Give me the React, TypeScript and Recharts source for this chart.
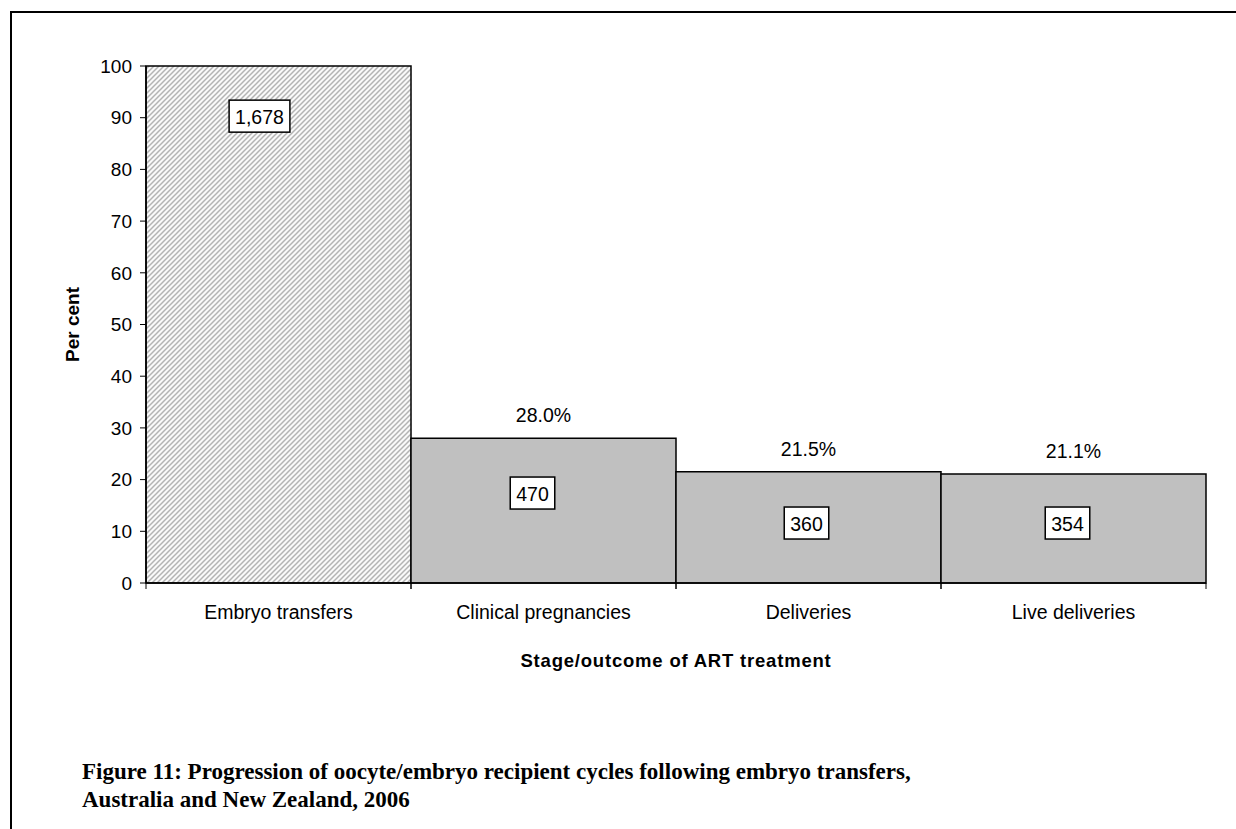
import { BarChart, Bar, XAxis, YAxis, Cell, LabelList } from 'recharts';

const stages = ['Embryo transfers', 'Clinical pregnancies', 'Deliveries', 'Live deliveries'];
const percents = [100, 28.0, 21.5, 21.1];
const counts = [1678, 470, 360, 354];
const yTicks = [0, 10, 20, 30, 40, 50, 60, 70, 80, 90, 100];

const data = stages.map((stage, i) => ({ stage, pct: percents[i], count: counts[i] }));

// height (axis units) where each boxed count sits, and a small sideways nudge in px
const countAt = [90.3, 17.4, 11.6, 11.6];
const countNudge = [-19, -11, -2, -6];

const W = 1236;
const H = 700;
const margin = { top: 66, right: 30, bottom: 27, left: 86 };
const Y_W = 60;
const band = (W - margin.left - margin.right - Y_W) / stages.length;

const sans = '"Liberation Sans", Arial, sans-serif';

const textW = (s: string, size: number) =>
  s.split('').reduce((w, c) => w + (c === ',' || c === '.' ? 0.278 : 0.556) * size, 0);

function StageTick(props: any) {
  const { x, y, payload } = props;
  return (
    <g>
      <line x1={x - band / 2} x2={x - band / 2} y1={y - 6} y2={y} stroke="#000" strokeWidth={1} />
      <line x1={x + band / 2} x2={x + band / 2} y1={y - 6} y2={y} stroke="#000" strokeWidth={1} />
      <text x={x} y={y + 23} textAnchor="middle" dominantBaseline="central" fill="#000" fontSize={19.5} fontFamily={sans}>
        {payload.value}
      </text>
    </g>
  );
}

function XTitle(props: any) {
  const { viewBox } = props;
  const cx = viewBox.x + viewBox.width / 2;
  return (
    <text x={cx} y={viewBox.y + 77} textAnchor="middle" dominantBaseline="central" fill="#000" fontSize={18.5} fontWeight="bold" fontFamily={sans} letterSpacing={0.8}>
      Stage/outcome of ART treatment
    </text>
  );
}

function YTitle(props: any) {
  const { viewBox } = props;
  const cx = viewBox.x - 14;
  const cy = viewBox.y + viewBox.height / 2;
  return (
    <text x={cx} y={cy} transform={`rotate(-90 ${cx} ${cy})`} textAnchor="middle" dominantBaseline="central" fill="#000" fontSize={19} fontWeight="bold" fontFamily={sans}>
      Per cent
    </text>
  );
}

function PctLabel(props: any) {
  const { x, y, width, value, index } = props;
  if (index === 0) return null;
  return (
    <text x={x + width / 2} y={y - 23} textAnchor="middle" dominantBaseline="central" fill="#000" fontSize={19.5} fontFamily={sans}>
      {`${Number(value).toFixed(1)}%`}
    </text>
  );
}

function CountBox(props: any) {
  const { x, y, width, height, value, index } = props;
  const label = Number(value).toLocaleString('en-US');
  const cx = x + width / 2 + countNudge[index];
  const cy = y + height - (height * countAt[index]) / percents[index];
  const bw = textW(label, 19.5) + 12;
  const bh = 32;
  return (
    <g>
      <rect x={cx - bw / 2} y={cy - bh / 2} width={bw} height={bh} fill="#fff" stroke="#000" strokeWidth={1.5} />
      <text x={cx} y={cy + 1} textAnchor="middle" dominantBaseline="central" fill="#000" fontSize={19.5} fontFamily={sans}>
        {label}
      </text>
    </g>
  );
}

export default function App() {
  return (
    <div style={{ position: 'fixed', left: 0, top: 0, width: W, height: 829, background: '#fff', overflow: 'hidden' }}>
      <div
        style={{
          position: 'absolute',
          left: 10,
          top: 11,
          width: W - 10,
          height: 829 - 11,
          borderTop: '2px solid #000',
          borderLeft: '2px solid #000',
        }}
      />
      <div style={{ position: 'absolute', left: 0, top: 0 }}>
        <BarChart width={W} height={H} data={data} margin={margin} barCategoryGap={0}>
          <defs>
            <pattern id="hatch" patternUnits="userSpaceOnUse" width={5} height={5}>
              <rect width={5} height={5} fill="#fafafa" />
              <path d="M-1,1 l2,-2 M0,5 l5,-5 M4,6 l2,-2" stroke="#b4b4b4" strokeWidth={1.5} />
            </pattern>
          </defs>
          <XAxis
            dataKey="stage"
            height={90}
            interval={0}
            tickLine={false}
            tickSize={6}
            tickMargin={0}
            axisLine={{ stroke: '#000', strokeWidth: 1.5 }}
            tick={<StageTick />}
            label={<XTitle />}
          />
          <YAxis
            width={Y_W}
            domain={[0, 100]}
            ticks={yTicks}
            interval={0}
            tickSize={6}
            tickMargin={8}
            axisLine={{ stroke: '#000', strokeWidth: 1.5 }}
            tickLine={{ stroke: '#000' }}
            tick={{ fill: '#000', fontSize: 19, fontFamily: sans }}
            label={<YTitle />}
          />
          <Bar dataKey="pct" stroke="#000" strokeWidth={1.5} isAnimationActive={false}>
            {data.map((d, i) => (
              <Cell key={d.stage} fill={i === 0 ? 'url(#hatch)' : '#c0c0c0'} />
            ))}
            <LabelList dataKey="pct" content={<PctLabel />} />
            <LabelList dataKey="count" content={<CountBox />} />
          </Bar>
        </BarChart>
      </div>
      <div
        style={{
          position: 'absolute',
          left: 82,
          top: 758,
          fontFamily: '"Liberation Serif", "Times New Roman", serif',
          fontWeight: 'bold',
          fontSize: 23,
          lineHeight: '28px',
          color: '#000',
          whiteSpace: 'nowrap',
        }}
      >
        Figure 11: Progression of oocyte/embryo recipient cycles following embryo transfers,
        <br />
        Australia and New Zealand, 2006
      </div>
    </div>
  );
}
